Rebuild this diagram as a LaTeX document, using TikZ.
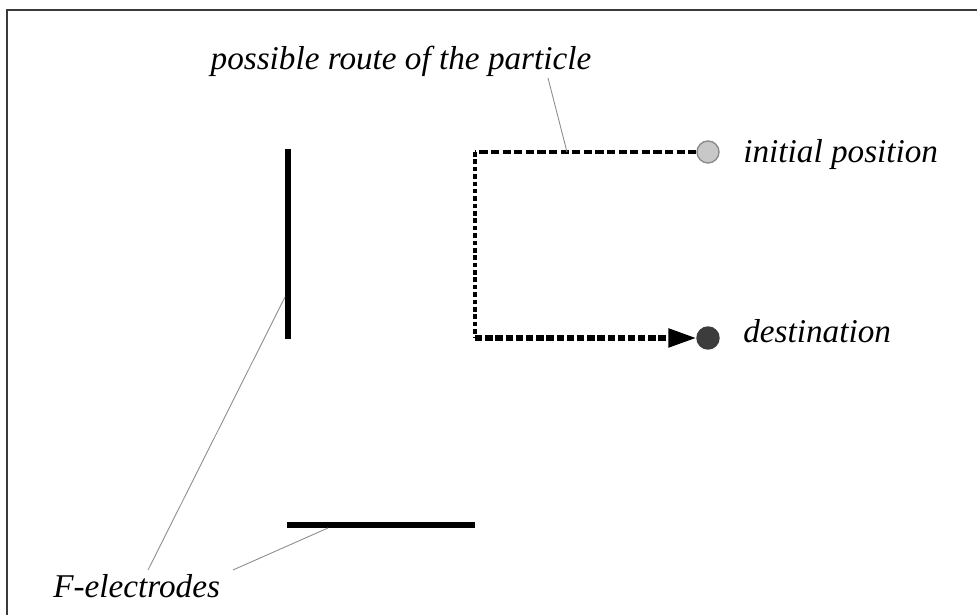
\documentclass[tikz,border=0pt]{standalone}
\usepackage{fontspec}
\setmainfont{Liberation Serif}
\usepackage{xcolor}
\usetikzlibrary{calc,arrows.meta,positioning}
\definecolor{framec}{HTML}{3A3A3A}
\definecolor{leadc}{HTML}{8C8C8C}
\definecolor{startc}{HTML}{C8C8C8}
\definecolor{destc}{HTML}{3C3C3C}
\tikzset{
  electrode/.style={line width=2.9pt,black},
  leader/.style={leadc,line width=0.5pt},
  lbl/.style={font=\fontsize{18.9}{22}\selectfont\itshape,inner sep=0pt},
  dot/.style={circle,minimum size=4.4mm,inner sep=0pt,line width=0.8pt}
}

\begin{document}
\begin{tikzpicture}
\useasboundingbox (0,0) rectangle (19.54,12.3);
% frame (only top and left edges are inside the picture)
\draw[framec,line width=1.1pt] (0.14,-0.2) -- (0.14,12.1) -- (19.8,12.1);
% electrodes
\coordinate (ev1) at (5.76,9.32);
\coordinate (ev2) at (5.76,5.52);
\coordinate (eh1) at (5.74,1.8);
\coordinate (eh2) at (9.5,1.8);
\draw[electrode] (ev1) -- (ev2);
\draw[electrode] (eh1) -- (eh2);
% start and end of the particle
\node[dot,draw=leadc,fill=startc] (start) at (14.16,9.26) {};
\node[dot,draw=destc,fill=destc] (dest) at (14.16,5.54) {};
\coordinate (c1) at (9.5,9.26);
\coordinate (c2) at (9.5,5.54);
\draw[line width=2pt,dash pattern=on 4.6pt off 2pt] (start.west) -- (c1);
\draw[line width=2.6pt,dash pattern=on 2.6pt off 1.6pt] (c1) -- (c2);
\draw[line width=3pt,dash pattern=on 4.2pt off 1.6pt,-{Triangle[length=5.6mm,width=3.6mm,sep=0pt]}] (c2) -- (dest.west);
% labels
\node[lbl,anchor=base west] (initl) at (14.86,9.04) {initial position};
\node[lbl,anchor=base west] (destl) at (14.86,5.44) {destination};
\node[lbl] (route) at (8.02,11.08) {possible route of the particle};
\node[lbl,anchor=base west] (felec) at (1.06,0.34) {F-electrodes};
% leader lines
\coordinate (rpin) at (10.96,10.74);
\coordinate (rend) at (11.34,9.26);
\draw[leader] (rpin) -- (rend);
\coordinate (fpin1) at (2.96,0.9);
\coordinate (fpin2) at (4.66,0.9);
\coordinate (evpin) at (5.7,6.36);
\coordinate (ehpin) at (6.56,1.74);
\draw[leader] (fpin1) -- (evpin);
\draw[leader] (fpin2) -- (ehpin);
\end{tikzpicture}
\end{document}
